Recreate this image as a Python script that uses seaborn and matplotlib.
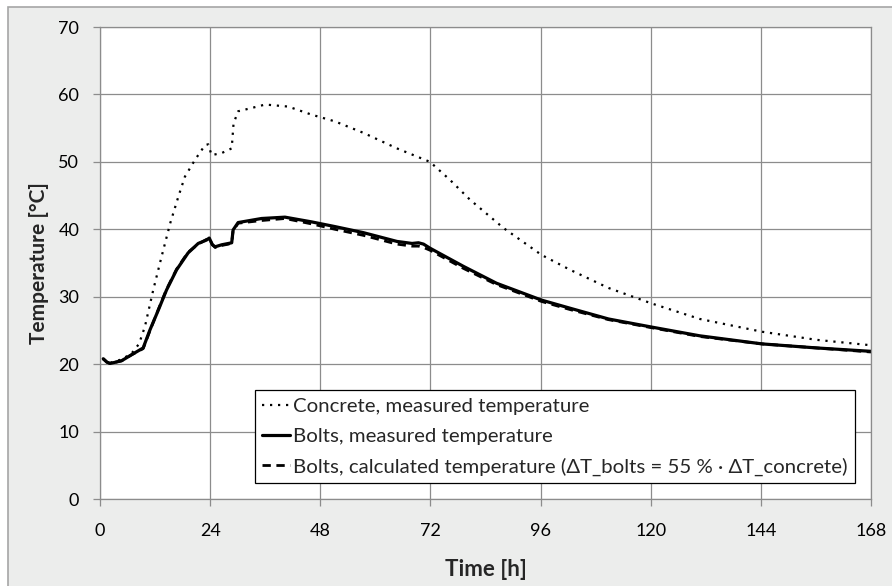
import matplotlib
matplotlib.use("Agg")
import matplotlib.pyplot as plt
import seaborn as sns
import numpy as np
from matplotlib.patches import Rectangle

# ---- data ----
t_concrete = [0.7, 2.2, 4.7, 6.9, 8.5, 9.8, 11.6, 13.4, 15.3, 17.1, 18.5, 20.7, 22.9, 23.6,
              24.3, 26.5, 28.7, 29.1, 30.1, 33.1, 36.0, 41.0, 46.1, 51.2, 57.4, 64.7, 71.9,
              76.3, 80.6, 87.9, 96.2, 102.4, 110.8, 120.2, 130.7, 144.3, 156.2, 168.0]
T_concrete = [20.7, 20.2, 20.7, 21.6, 23.0, 25.6, 31.0, 35.9, 40.9, 44.9, 47.8, 50.3, 52.5, 52.6,
              51.0, 51.3, 52.0, 55.7, 57.5, 58.0, 58.5, 58.2, 57.0, 56.0, 54.3, 52.0, 50.0,
              47.3, 44.4, 40.2, 36.2, 34.0, 31.3, 29.0, 26.7, 24.8, 23.6, 22.8]

t_bolts = [0.7, 1.5, 2.2, 4.7, 6.9, 9.4, 10.9, 12.7, 14.5, 16.7, 19.2, 21.4, 23.2, 23.8,
           24.5, 25.1, 26.5, 28.0, 28.7, 29.0, 30.1, 35.2, 40.3, 46.1, 51.2, 57.4, 64.7,
           68.0, 69.4, 70.5, 71.9, 79.2, 86.4, 96.2, 102.4, 110.8, 120.2, 130.7, 144.3, 156.2, 168.0]
T_bolts_meas = [20.8, 20.3, 20.1, 20.5, 21.4, 22.4, 25.1, 28.0, 31.0, 34.0, 36.5, 37.9, 38.4, 38.7,
                37.7, 37.4, 37.7, 37.9, 38.0, 39.9, 41.0, 41.6, 41.8, 41.1, 40.4, 39.5, 38.2,
                37.9, 38.0, 37.8, 37.2, 34.5, 32.0, 29.5, 28.3, 26.7, 25.5, 24.2, 23.0, 22.4, 21.9]
T_bolts_calc = [20.8, 20.3, 20.1, 20.5, 21.4, 22.3, 25.0, 28.1, 31.1, 34.1, 36.6, 37.8, 38.5, 38.6,
                37.7, 37.3, 37.6, 37.8, 38.0, 39.8, 40.9, 41.3, 41.6, 40.8, 40.0, 39.1, 37.8,
                37.5, 37.5, 37.3, 36.9, 34.2, 31.8, 29.3, 28.1, 26.6, 25.4, 24.1, 23.0, 22.4, 21.8]

labels = ["Concrete, measured temperature",
          "Bolts, measured temperature",
          "Bolts, calculated temperature (\u0394T_bolts = 55 % \u00b7 \u0394T_concrete)"]
x_ticks = [0, 24, 48, 72, 96, 120, 144, 168]
y_ticks = [0, 10, 20, 30, 40, 50, 60, 70]

sns.set_theme(style="white")
plt.rcParams['font.family'] = ['Lato', 'DejaVu Sans']

W, H = 892, 586
fig = plt.figure(figsize=(W / 100, H / 100), dpi=100, facecolor="white")
bg = Rectangle((8 / W, -0.1), 1.2, 1 - 7 / H + 0.1, transform=fig.transFigure,
               facecolor="#ECEDEC", edgecolor="#A6A6A6", linewidth=1.2, zorder=-10)
fig.patches.append(bg)

ax = fig.add_axes([100 / W, 1 - 499 / H, 771 / W, 472 / H])
ax.set_zorder(5)
ax.set_facecolor("white")

sns.lineplot(x=t_concrete, y=T_concrete, ax=ax, color="black", linewidth=1.6,
             linestyle=(0, (1, 2.6)), label=labels[0], sort=False)
sns.lineplot(x=t_bolts, y=T_bolts_meas, ax=ax, color="black", linewidth=2.3,
             label=labels[1], sort=False)
sns.lineplot(x=t_bolts, y=T_bolts_calc, ax=ax, color="black", linewidth=2.0,
             linestyle=(0, (3, 2)), label=labels[2], sort=False)

ax.set_xlim(0, 168)
ax.set_ylim(0, 70)
ax.set_xticks(x_ticks)
ax.set_yticks(y_ticks)
ax.grid(True, color="#8C8C8C", linewidth=0.9)
for s in ax.spines.values():
    s.set_color("#8C8C8C")
    s.set_linewidth(0.9)
ax.tick_params(axis="both", which="major", direction="out", length=5, width=0.9,
               color="#8C8C8C", labelsize=13, labelcolor="black",
               left=True, bottom=True)
ax.tick_params(axis="x", pad=12)
ax.tick_params(axis="y", pad=10)

ax.set_xlabel("Time [h]", fontsize=16, fontweight="bold")
ax.set_ylabel("Temperature [\u00b0C]", fontsize=15, fontweight="bold")
ax.xaxis.set_label_coords(0.5, -0.127)
ax.yaxis.set_label_coords(-0.066, 0.5)

leg = ax.legend(loc="lower left", bbox_to_anchor=(0.201, 0.034), fontsize=14.7,
                frameon=True, fancybox=False, edgecolor="black", framealpha=1,
                handlelength=1.37, handletextpad=0.15, labelspacing=0.62,
                borderpad=0.35, borderaxespad=0)
leg.get_frame().set_linewidth(0.9)

fig.savefig("out.png", dpi=100, facecolor=fig.get_facecolor())
